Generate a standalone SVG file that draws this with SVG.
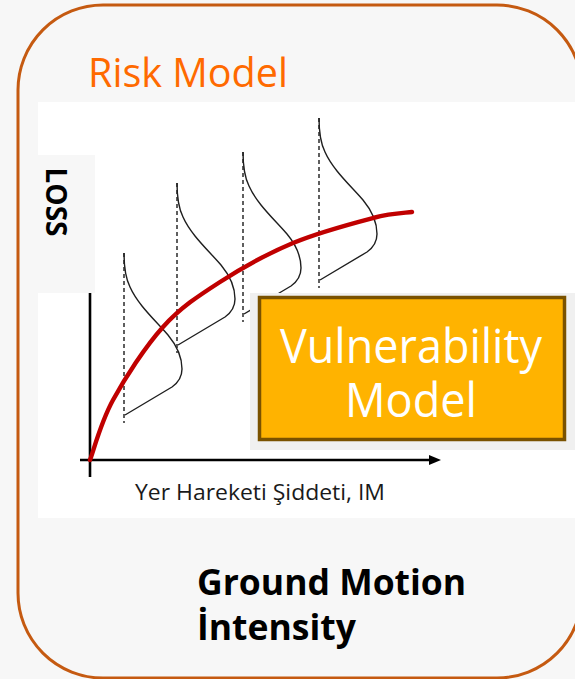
<svg xmlns="http://www.w3.org/2000/svg" xmlns:xlink="http://www.w3.org/1999/xlink" width="575" height="679" viewBox="0 0 575 679">
  <style>
    .pdf { fill: none; stroke: #1e1e1e; stroke-width: 1.4; stroke-linejoin: round; }
    .dash { fill: none; stroke: #2a2a2a; stroke-width: 1.5; stroke-dasharray: 4 3; }
    .axis { stroke: #000; stroke-width: 2.6; fill: none; }
    .title { font-family: "Open Sans", "Noto Sans", sans-serif; font-size: 40px; fill: #ff6a00; }
    .label { font-family: "Open Sans", "Noto Sans", sans-serif; font-weight: bold; fill: #000; }
    .box-text { font-family: "Open Sans", "Noto Sans", sans-serif; font-size: 48px; fill: #ffffff; }
  </style>
  <defs>
    <!-- one skewed loss distribution drawn along its own dashed axis -->
    <g id="dist">
      <line class="dash" x1="0" y1="0" x2="0" y2="170"/>
      <path class="pdf" d="M0,0 C0,14 1,24 6,34 C14,52 32,68 44,82 C54,94 58,106 58,116 C58,124 55,129 48,134 L1,162"/>
    </g>
  </defs>

  <!-- page background and outer frame -->
  <rect width="575" height="679" fill="#f7f7f7"/>
  <rect id="frame" x="18" y="5" width="564" height="673" rx="85" ry="85" fill="#f7f7f7" stroke="#c55a11" stroke-width="3"/>

  <g id="risk-model-title">
    <text class="title" x="88" y="87" textLength="200" lengthAdjust="spacingAndGlyphs">Risk Model</text>
  </g>

  <!-- chart panel -->
  <g id="chart">
    <rect x="38" y="102" width="537" height="416" fill="#ffffff"/>

    <g id="connectors">
      <!-- axes -->
      <line class="axis" x1="90" y1="178" x2="90" y2="477"/>
      <polygon points="90,170 95,180 85,180" fill="#000"/>
      <line class="axis" x1="80" y1="460" x2="432" y2="460"/>
      <polygon points="441,460 429,455 429,465" fill="#000"/>
    </g>

    <!-- distributions at increasing intensity -->
    <use xlink:href="#dist" transform="translate(124,253)"/>
    <use xlink:href="#dist" transform="translate(177,183)"/>
    <use xlink:href="#dist" transform="translate(243,152)"/>
    <use xlink:href="#dist" transform="translate(319,118)"/>

    <!-- mean vulnerability curve -->
    <path d="M90,460 C93.8,450 100.8,422.2 113,400 C125.2,377.8 145.2,346.7 163,327 C180.8,307.3 198.3,296 220,282 C241.7,268 267.5,253.7 293,243 C318.5,232.3 353.2,223.2 373,218 C392.8,212.8 405.5,213 412,212" fill="none" stroke="#c00000" stroke-width="4.4" stroke-linecap="round"/>

    <text x="135" y="500" font-family="'Open Sans', 'Noto Sans', sans-serif" font-size="22" fill="#1a1a1a" textLength="250" lengthAdjust="spacingAndGlyphs">Yer Hareketi Şiddeti, IM</text>
  </g>

  <g id="loss-label">
    <rect x="35" y="155" width="60" height="138" fill="#f7f7f7"/>
    <text class="label" font-size="28" text-anchor="middle" transform="translate(46,202) rotate(90)">LOSS</text>
  </g>

  <g id="vulnerability-model">
    <rect x="250" y="293" width="325" height="157" fill="#f0f0f0"/>
    <rect x="259.5" y="297.5" width="305" height="142" fill="#ffb300" stroke="#7a5200" stroke-width="3.5"/>
    <text class="box-text" x="411" y="363" text-anchor="middle" textLength="262" lengthAdjust="spacingAndGlyphs">Vulnerability</text>
    <text class="box-text" x="411" y="417" text-anchor="middle" textLength="132" lengthAdjust="spacingAndGlyphs">Model</text>
  </g>

  <g id="ground-motion-label">
    <text class="label" font-size="35.5">
      <tspan x="197" y="595">Ground Motion</tspan>
      <tspan x="197" y="640">İntensity</tspan>
    </text>
  </g>
</svg>
